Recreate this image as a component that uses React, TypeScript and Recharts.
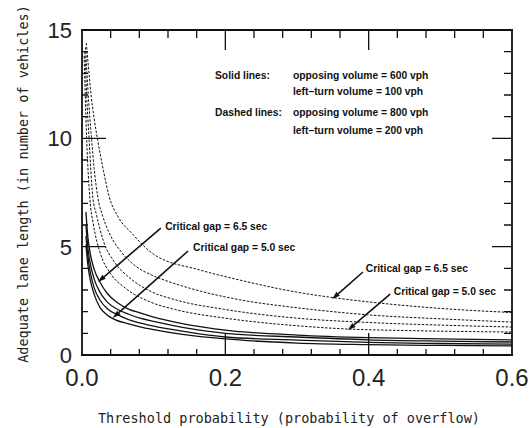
import React from 'react';
import { LineChart, Line, XAxis, YAxis, ReferenceLine, ReferenceDot } from 'recharts';

// ---- data (threshold probability, adequate lane length) ----
// Solid lines: opposing 600 vph, left-turn 100 vph
const solidGap65 = [[0.0055, 6.6], [0.008, 5.5], [0.012, 4.6], [0.017, 3.95], [0.025, 3.37], [0.035, 2.85], [0.05, 2.4], [0.065, 2.12], [0.081, 1.94], [0.1, 1.75], [0.14, 1.45], [0.2, 1.15], [0.3, 0.92], [0.4, 0.8], [0.5, 0.74], [0.6, 0.7]];
const solidGap60 = [[0.0055, 6.0], [0.008, 5.0], [0.012, 4.15], [0.017, 3.5], [0.025, 2.9], [0.035, 2.45], [0.05, 2.1], [0.065, 1.88], [0.081, 1.7], [0.1, 1.55], [0.14, 1.28], [0.2, 1.0], [0.3, 0.83], [0.4, 0.7], [0.5, 0.64], [0.6, 0.6]];
const solidGap55 = [[0.0055, 5.5], [0.008, 4.6], [0.012, 3.75], [0.017, 3.1], [0.025, 2.54], [0.035, 2.15], [0.05, 1.85], [0.065, 1.63], [0.081, 1.48], [0.1, 1.33], [0.14, 1.1], [0.2, 0.83], [0.3, 0.69], [0.4, 0.58], [0.5, 0.53], [0.6, 0.5]];
const solidGap50 = [[0.0055, 5.1], [0.008, 4.2], [0.012, 3.4], [0.017, 2.8], [0.025, 2.2], [0.035, 1.85], [0.043, 1.68], [0.065, 1.44], [0.081, 1.3], [0.1, 1.17], [0.14, 0.95], [0.2, 0.74], [0.3, 0.55], [0.4, 0.48], [0.5, 0.44], [0.6, 0.42]];
// Dashed lines: opposing 800 vph, left-turn 200 vph
const dashedGap65 = [[0.006, 14.4], [0.009, 13.3], [0.013, 11.9], [0.017, 10.9], [0.022, 9.9], [0.03, 8.5], [0.038, 7.3], [0.05, 6.4], [0.07, 5.6], [0.1, 4.65], [0.165, 3.92], [0.22, 3.46], [0.3, 2.9], [0.35, 2.65], [0.4, 2.45], [0.5, 2.15], [0.6, 1.96]];
const dashedGap60 = [[0.005, 14.2], [0.008, 12.4], [0.0135, 9.9], [0.017, 8.6], [0.022, 7.3], [0.03, 6.3], [0.04, 5.5], [0.055, 4.75], [0.075, 4.1], [0.1, 3.65], [0.12, 3.4], [0.165, 2.95], [0.22, 2.55], [0.3, 2.18], [0.35, 2.0], [0.4, 1.85], [0.5, 1.67], [0.6, 1.52]];
const dashedGap55 = [[0.004, 14.0], [0.0065, 12.0], [0.01, 9.9], [0.015, 7.3], [0.02, 6.5], [0.03, 5.25], [0.045, 4.3], [0.065, 3.6], [0.095, 2.95], [0.13, 2.55], [0.2, 2.1], [0.3, 1.7], [0.4, 1.5], [0.5, 1.38], [0.6, 1.29]];
const dashedGap50 = [[0.003, 13.8], [0.0045, 12.0], [0.0066, 9.9], [0.011, 7.2], [0.016, 6.0], [0.025, 4.75], [0.04, 3.75], [0.06, 3.1], [0.095, 2.45], [0.13, 2.1], [0.2, 1.7], [0.3, 1.35], [0.37, 1.2], [0.45, 1.13], [0.6, 1.06]];

// ---- axes ----
const xDomain = [0, 0.6];
const yDomain = [0, 15];
const xMajorTicks = [0, 0.2, 0.4, 0.6];
const xMajorLabels = ['0.0', '0.2', '0.4', '0.6'];
const xInnerTicks = [0.04, 0.08, 0.12, 0.16, 0.2, 0.24, 0.28, 0.32, 0.36, 0.4, 0.44, 0.48, 0.52, 0.56];
const yMajorTicks = [0, 5, 10, 15];
const yMajorLabels = ['0', '5', '10', '15'];
const yInnerTicks = [1, 2, 3, 4, 5, 6, 7, 8, 9, 10, 11, 12, 13, 14];
const xTitle = 'Threshold probability (probability of overflow)';
const yTitle = 'Adequate lane length (in number of vehicles)';

// ---- annotations (data coordinates) ----
const legendRows = [
  { x: 0.1856, y: 12.92, text: 'Solid lines:' },
  { x: 0.2944, y: 12.92, text: 'opposing volume = 600 vph' },
  { x: 0.2944, y: 12.18, text: 'left\u2013turn volume = 100 vph' },
  { x: 0.1856, y: 11.17, text: 'Dashed lines:' },
  { x: 0.2944, y: 11.17, text: 'opposing volume = 800 vph' },
  { x: 0.2944, y: 10.38, text: 'left\u2013turn volume = 200 vph' },
];
const gapLabels = [
  { x: 0.116, y: 5.95, text: 'Critical gap = 6.5 sec' },
  { x: 0.155, y: 4.94, text: 'Critical gap = 5.0 sec' },
  { x: 0.396, y: 3.97, text: 'Critical gap = 6.5 sec' },
  { x: 0.435, y: 2.95, text: 'Critical gap = 5.0 sec' },
];
const gapArrows = [
  { from: [0.110, 5.86], to: [0.0223, 3.37] },
  { from: [0.148, 4.8], to: [0.043, 1.71] },
  { from: [0.392, 3.83], to: [0.349, 2.58] },
  { from: [0.430, 2.81], to: [0.371, 1.15] },
];

const toPts = (arr: number[][]) => arr.map(([p, L]) => ({ p, L }));
const solidSeries = [solidGap65, solidGap60, solidGap55, solidGap50].map(toPts);
const dashedSeries = [dashedGap65, dashedGap60, dashedGap55, dashedGap50].map(toPts);

// frame sides as data-space segments
const frameSides = [
  [[xDomain[0], yDomain[0]], [xDomain[1], yDomain[0]]],
  [[xDomain[0], yDomain[1]], [xDomain[1], yDomain[1]]],
  [[xDomain[0], yDomain[0]], [xDomain[0], yDomain[1]]],
  [[xDomain[1], yDomain[0]], [xDomain[1], yDomain[1]]],
];

const INK = '#111';
const near = (a: number, b: number) => Math.abs(a - b) < 1e-6;
const majorIdx = (list: number[], v: number) => list.findIndex((m) => near(m, v));

const tickFont = '"Liberation Sans", Arial, sans-serif';
const titleFont = '"DejaVu Sans Mono", monospace';
const noteFont = '"Liberation Sans", Arial, sans-serif';

function BottomLabel(props: any) {
  const { x, y, payload } = props;
  const mi = majorIdx(xMajorTicks, payload.value);
  if (mi < 0) return <g />;
  return (
    <text x={x} y={y + 31} textAnchor="middle" fontFamily={tickFont} fontSize={24} fill="#222">
      {xMajorLabels[mi]}
    </text>
  );
}

function LeftLabel(props: any) {
  const { x, y, payload } = props;
  const mi = majorIdx(yMajorTicks, payload.value);
  if (mi < 0) return <g />;
  return (
    <text x={x - 10} y={y + 8} textAnchor="end" fontFamily={tickFont} fontSize={22} fill="#222">
      {yMajorLabels[mi]}
    </text>
  );
}

function FrameLine(props: any) {
  const { x1, y1, x2, y2 } = props;
  return <path d={`M${x1},${y1}L${x2},${y2}`} stroke={INK} strokeWidth={1.8} fill="none" strokeLinecap="square" />;
}

// vertical segment spanning the plot -> inward tick marks at bottom and top
const vTickShape = (major: boolean) => (props: any) => {
  const { x1, y1, y2 } = props;
  const top = Math.min(y1, y2);
  const bot = Math.max(y1, y2);
  return (
    <path
      d={`M${x1},${bot}L${x1},${bot - (major ? 22 : 6)}M${x1},${top}L${x1},${top + (major ? 20 : 8)}`}
      stroke={INK}
      strokeWidth={1.3}
      fill="none"
    />
  );
};

// horizontal segment spanning the plot -> inward tick marks at left and right
const hTickShape = (major: boolean) => (props: any) => {
  const { x1, x2, y1 } = props;
  const left = Math.min(x1, x2);
  const right = Math.max(x1, x2);
  return (
    <path
      d={`M${left},${y1}L${left + (major ? 24 : 6)},${y1}M${right},${y1}L${right - (major ? 20 : 8)},${y1}`}
      stroke={INK}
      strokeWidth={1.3}
      fill="none"
    />
  );
};

function Arrow(props: any) {
  const { x1, y1, x2, y2 } = props;
  const ang = Math.atan2(y2 - y1, x2 - x1);
  const len = 8;
  const half = 2.6;
  const bx = x2 - len * Math.cos(ang);
  const by = y2 - len * Math.sin(ang);
  const px = -Math.sin(ang) * half;
  const py = Math.cos(ang) * half;
  return (
    <g>
      <line x1={x1} y1={y1} x2={bx} y2={by} stroke={INK} strokeWidth={1.6} />
      <polygon points={`${x2},${y2} ${bx + px},${by + py} ${bx - px},${by - py}`} fill={INK} />
    </g>
  );
}

const noteShape = (text: string) => (p: any) => (
  <text x={p.cx} y={p.cy + 3.5} fontFamily={noteFont} fontWeight="bold" fontSize={10.3} fill="#111">
    {text}
  </text>
);

export default function App() {
  return (
    <div style={{ position: 'absolute', left: 0, top: 0, width: 531, height: 428 }}>
      <LineChart width={531} height={428} margin={{ top: 30, right: 19, bottom: 72, left: 81 }}>
        <XAxis
          xAxisId="b"
          orientation="bottom"
          type="number"
          dataKey="p"
          domain={xDomain}
          allowDataOverflow
          ticks={xMajorTicks}
          interval={0}
          height={1}
          tickSize={0}
          tickMargin={0}
          tickLine={false}
          axisLine={false}
          tick={<BottomLabel />}
        />
        <YAxis
          yAxisId="l"
          orientation="left"
          type="number"
          domain={yDomain}
          allowDataOverflow
          ticks={yMajorTicks}
          interval={0}
          width={1}
          tickSize={0}
          tickMargin={0}
          tickLine={false}
          axisLine={false}
          tick={<LeftLabel />}
        />

        {dashedSeries.map((d, i) => (
          <Line
            key={'d' + i}
            xAxisId="b"
            yAxisId="l"
            data={d}
            dataKey="L"
            type="monotone"
            stroke={INK}
            strokeWidth={1}
            strokeDasharray="2.5 1.5"
            dot={false}
            activeDot={false}
            isAnimationActive={false}
          />
        ))}
        {solidSeries.map((d, i) => (
          <Line
            key={'s' + i}
            xAxisId="b"
            yAxisId="l"
            data={d}
            dataKey="L"
            type="monotone"
            stroke={INK}
            strokeWidth={1.3}
            dot={false}
            activeDot={false}
            isAnimationActive={false}
          />
        ))}

        {frameSides.map((s, i) => (
          <ReferenceLine
            key={'f' + i}
            xAxisId="b"
            yAxisId="l"
            ifOverflow="visible"
            segment={[{ x: s[0][0], y: s[0][1] }, { x: s[1][0], y: s[1][1] }]}
            shape={<FrameLine />}
          />
        ))}
        {xInnerTicks.map((v) => (
          <ReferenceLine
            key={'vx' + v}
            xAxisId="b"
            yAxisId="l"
            ifOverflow="visible"
            segment={[{ x: v, y: yDomain[0] }, { x: v, y: yDomain[1] }]}
            shape={vTickShape(majorIdx(xMajorTicks, v) >= 0)}
          />
        ))}
        {yInnerTicks.map((v) => (
          <ReferenceLine
            key={'hy' + v}
            xAxisId="b"
            yAxisId="l"
            ifOverflow="visible"
            segment={[{ x: xDomain[0], y: v }, { x: xDomain[1], y: v }]}
            shape={hTickShape(majorIdx(yMajorTicks, v) >= 0)}
          />
        ))}

        {gapArrows.map((a, i) => (
          <ReferenceLine
            key={'a' + i}
            xAxisId="b"
            yAxisId="l"
            segment={[{ x: a.from[0], y: a.from[1] }, { x: a.to[0], y: a.to[1] }]}
            shape={<Arrow />}
          />
        ))}
        {gapLabels.map((g, i) => (
          <ReferenceDot key={'g' + i} xAxisId="b" yAxisId="l" x={g.x} y={g.y} r={0} shape={noteShape(g.text)} />
        ))}
        {legendRows.map((g, i) => (
          <ReferenceDot key={'n' + i} xAxisId="b" yAxisId="l" x={g.x} y={g.y} r={0} shape={noteShape(g.text)} />
        ))}
      </LineChart>
      <svg width={531} height={428} style={{ position: 'absolute', left: 0, top: 0, pointerEvents: 'none' }}>
        <text x={289} y={423} textAnchor="middle" fontFamily={titleFont} fontSize={13.5} fill="#222">
          {xTitle}
        </text>
        <text
          x={23}
          y={184}
          textAnchor="middle"
          dominantBaseline="central"
          transform="rotate(-90, 23, 184)"
          fontFamily={titleFont}
          fontSize={13.5}
          fill="#222"
        >
          {yTitle}
        </text>
      </svg>
    </div>
  );
}
